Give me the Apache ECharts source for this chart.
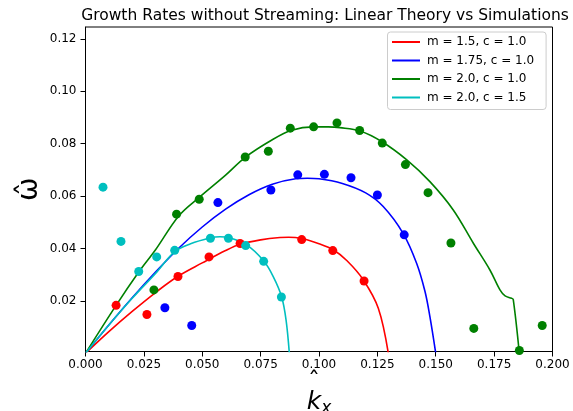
<!DOCTYPE html>
<html>
<head>
<meta charset="utf-8">
<script src="https://cdn.jsdelivr.net/npm/echarts@6/dist/echarts.min.js"></script>
<style>html,body{margin:0;padding:0;background:#fff}#c{width:573px;height:411px}</style>
</head>
<body>
<div id="c"></div>
<script>
// ---- data ----
const xTicks = [0, 0.025, 0.05, 0.075, 0.1, 0.125, 0.15, 0.175, 0.2];
const yTicks = [0.02, 0.04, 0.06, 0.08, 0.10, 0.12];
const names = ['m = 1.5, c = 1.0', 'm = 1.75, c = 1.0', 'm = 2.0, c = 1.0', 'm = 2.0, c = 1.5'];
const colors = ['#ff0000', '#0000ff', '#008000', '#00bfbf'];

// theory curves
const redK = [0, 0.01, 0.02, 0.03, 0.0396, 0.05, 0.06, 0.0662, 0.075, 0.0833, 0.087, 0.0926, 0.1, 0.1061, 0.112, 0.119, 0.1254, 0.1297];
const redW = [0, 0.0083, 0.016, 0.0232, 0.0294, 0.0345, 0.0392, 0.0416, 0.0433, 0.0442, 0.0443, 0.0438, 0.0418, 0.0395, 0.0353, 0.028, 0.0172, 0.0];
const blueK = [0, 0.01, 0.02, 0.03, 0.04, 0.05, 0.06, 0.07, 0.08, 0.09, 0.095, 0.1, 0.11, 0.12, 0.1275, 0.136, 0.1418, 0.1454, 0.1475, 0.150];
const blueW = [0, 0.0108, 0.0212, 0.031, 0.0402, 0.0482, 0.0550, 0.0605, 0.0645, 0.0666, 0.0668, 0.0666, 0.0648, 0.0612, 0.056, 0.0458, 0.0344, 0.0236, 0.014, 0.0];
const greenK = [0, 0.0131, 0.0228, 0.03, 0.04, 0.0487, 0.06, 0.0684, 0.08, 0.0883, 0.0976, 0.104, 0.109, 0.1176, 0.1268, 0.1376, 0.1475, 0.1575, 0.1661, 0.1732, 0.1775, 0.1797, 0.1825, 0.1832, 0.1858];
const greenW = [0, 0.0183, 0.031, 0.0395, 0.0525, 0.0595, 0.0680, 0.0748, 0.0815, 0.0851, 0.0864, 0.0864, 0.0861, 0.0848, 0.0808, 0.0738, 0.0655, 0.0547, 0.042, 0.0318, 0.0242, 0.0219, 0.0210, 0.0205, 0.0];
const cyanK = [0, 0.01, 0.02, 0.03, 0.0382, 0.045, 0.0533, 0.0576, 0.0612, 0.069, 0.0762, 0.0804, 0.084, 0.0859, 0.0873];
const cyanW = [0, 0.0108, 0.021, 0.0305, 0.0388, 0.0418, 0.0440, 0.0445, 0.0442, 0.0414, 0.0354, 0.0293, 0.0216, 0.0127, 0.0];

// simulation points
const redSimK = [0.0131, 0.0263, 0.0396, 0.0529, 0.0662, 0.0926, 0.1059, 0.1193];
const redSimW = [0.0183, 0.0148, 0.0293, 0.0368, 0.0419, 0.0434, 0.0392, 0.0276];
const blueSimK = [0.0340, 0.0455, 0.0567, 0.0794, 0.0909, 0.1023, 0.1137, 0.1250, 0.1365];
const blueSimW = [0.0174, 0.0106, 0.0575, 0.0623, 0.0681, 0.0683, 0.0670, 0.0604, 0.0452];
const greenSimK = [0.0293, 0.0390, 0.0487, 0.0684, 0.0783, 0.0877, 0.0977, 0.1077, 0.1174, 0.1271, 0.1370, 0.1467, 0.1565, 0.1663, 0.1858, 0.1956];
const greenSimW = [0.0242, 0.0531, 0.0588, 0.0749, 0.0771, 0.0859, 0.0864, 0.0879, 0.0850, 0.0802, 0.0720, 0.0613, 0.0421, 0.0095, 0.0011, 0.0106];
const cyanSimK = [0.0075, 0.0152, 0.0228, 0.0305, 0.0382, 0.0535, 0.0612, 0.0686, 0.0763, 0.0839];
const cyanSimW = [0.0634, 0.0427, 0.0312, 0.0368, 0.0393, 0.0439, 0.0439, 0.0411, 0.0351, 0.0215];

const zip = (a, b) => a.map((v, i) => [v, b[i]]);
const theory = [zip(redK, redW), zip(blueK, blueW), zip(greenK, greenW), zip(cyanK, cyanW)];
const sims = [zip(redSimK, redSimW), zip(blueSimK, blueSimW), zip(greenSimK, greenSimW), zip(cyanSimK, cyanSimW)];

const font = 'DejaVu Sans';
const series = [];
theory.forEach((d, i) => series.push({
  name: names[i], type: 'line', data: d, smooth: 0.35, showSymbol: false, symbol: 'none',
  lineStyle: { color: colors[i], width: 1.6 }, itemStyle: { color: colors[i] }, z: 2, clip: true
}));
sims.forEach((d, i) => series.push({
  name: 'sim ' + i, type: 'scatter', data: d, symbolSize: 9,
  itemStyle: { color: colors[i], opacity: 1 }, z: 3
}));

const chart = echarts.init(document.getElementById('c'), null, { renderer: 'canvas' });
chart.setOption({
  animation: false,
  backgroundColor: '#fff',
  textStyle: { fontFamily: font },
  title: {
    text: 'Growth Rates without Streaming: Linear Theory vs Simulations',
    left: 320, top: 3, textAlign: 'center',
    textStyle: { fontFamily: font, fontSize: 15.5, fontWeight: 'normal', color: '#000' }
  },
  grid: { left: 85.5, right: 20.5, top: 27, bottom: 59.5, show: true, borderColor: '#000', borderWidth: 1, containLabel: false, outerBoundsMode: 'none' },
  legend: {
    data: names.map((n, i) => ({ name: n, icon: 'rect', itemStyle: { color: colors[i] } })),
    orient: 'vertical', left: 387.5, top: 32,
    itemWidth: 28, itemHeight: 2, itemGap: 4.5,
    padding: [3, 12, 5, 4.5],
    borderColor: '#cccccc', borderWidth: 1, borderRadius: 3, backgroundColor: 'rgba(255,255,255,0.8)',
    textStyle: { fontFamily: font, fontSize: 12, color: '#000', lineHeight: 14, padding: [0, 0, 0, 2] }
  },
  xAxis: {
    type: 'value', min: 0, max: 0.2, interval: 0.025,
    axisLine: { show: true, lineStyle: { color: '#000', width: 1 } },
    axisTick: { show: true, length: 5, lineStyle: { color: '#000' }, customValues: xTicks },
    axisLabel: { color: '#000', fontSize: 12, fontFamily: font, margin: 7, customValues: xTicks, formatter: v => v.toFixed(3) },
    splitLine: { show: false },
    name: '{h|\u02C6}\n{k|k}{s|x}', nameLocation: 'middle', nameGap: 26, nameMoveOverlap: false,
    nameTextStyle: {
      rich: {
        h: { fontFamily: font, fontSize: 24, color: '#000', lineHeight: 10, padding: [0, 10, 0, 0] },
        k: { fontFamily: font, fontStyle: 'italic', fontSize: 25, color: '#000', lineHeight: 30 },
        s: { fontFamily: font, fontStyle: 'italic', fontSize: 17, color: '#000', verticalAlign: 'bottom', lineHeight: 24 }
      }
    }
  },
  yAxis: {
    type: 'value', min: 0.0007, max: 0.1245,
    axisLine: { show: true, lineStyle: { color: '#000', width: 1 } },
    axisTick: { show: true, length: 5, lineStyle: { color: '#000' }, customValues: yTicks },
    axisLabel: { color: '#000', fontSize: 12, fontFamily: font, margin: 9, customValues: yTicks, formatter: v => v.toFixed(2) },
    splitLine: { show: false },
    name: '\u03C9\u0302', nameLocation: 'middle', nameGap: 42, nameRotate: 90, nameMoveOverlap: false,
    nameTextStyle: { fontFamily: font, fontSize: 28, color: '#000' }
  },
  series: series
});
</script>
</body>
</html>
